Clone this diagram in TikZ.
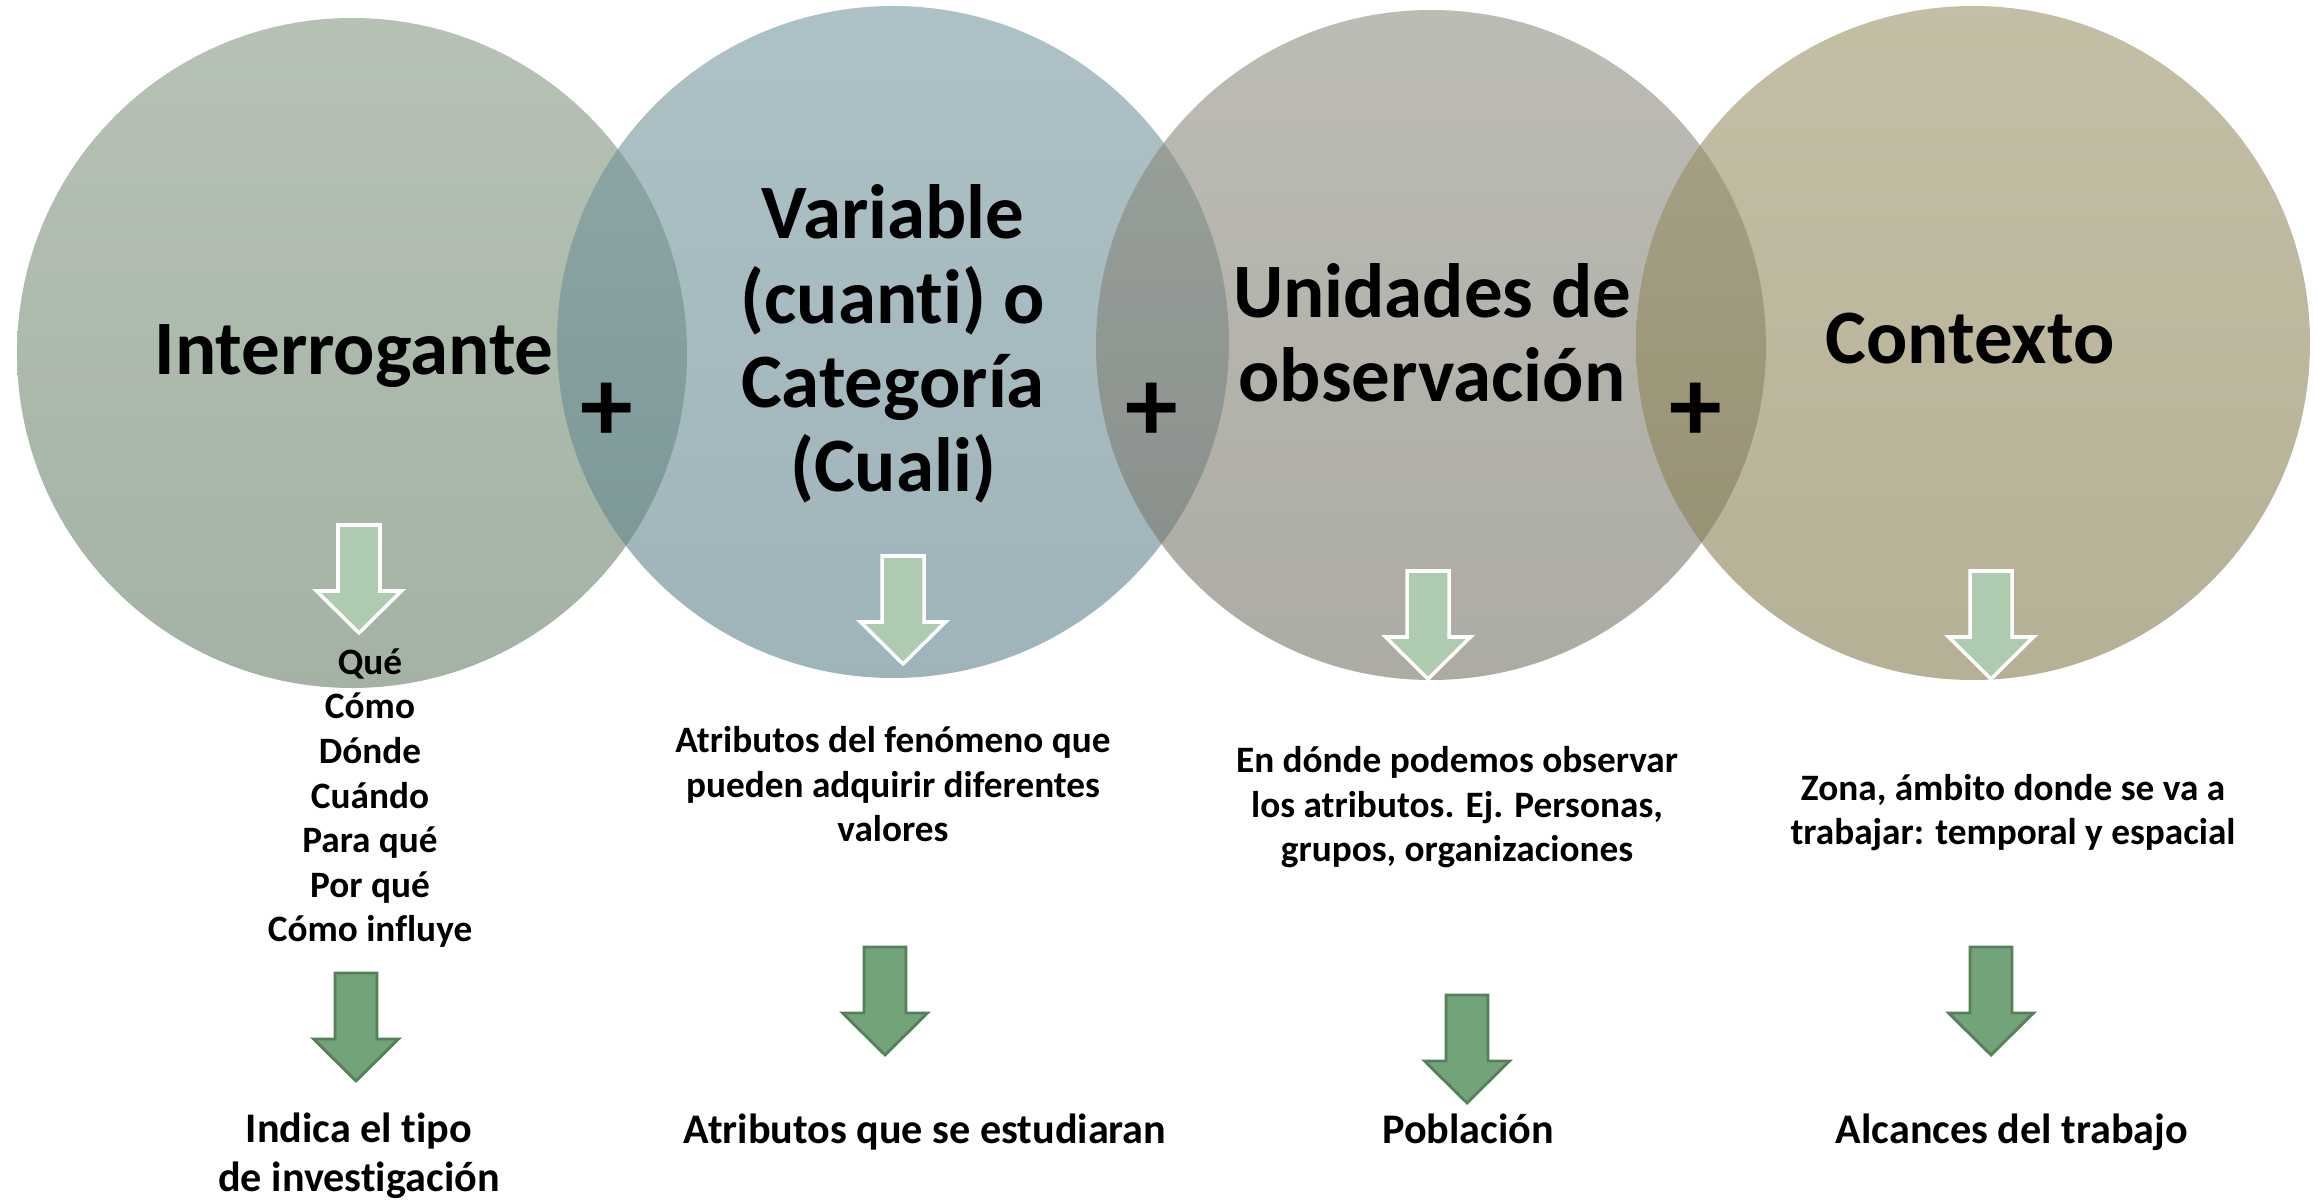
\documentclass[tikz,border=0pt]{standalone}
\usepackage{fontspec}
\setmainfont{Carlito}[Ligatures=NoCommon]
\usetikzlibrary{positioning}

\definecolor{greenTop}{RGB}{132,153,130}
\definecolor{greenBot}{RGB}{102,127,103}
\definecolor{blueTop}{RGB}{118,152,160}
\definecolor{blueBot}{RGB}{95,130,140}
\definecolor{greyTop}{RGB}{145,143,130}
\definecolor{greyBot}{RGB}{117,115,103}
\definecolor{khakiTop}{RGB}{155,147,105}
\definecolor{khakiBot}{RGB}{133,123,80}
\definecolor{paleArrow}{RGB}{174,203,176}
\definecolor{darkArrow}{RGB}{114,163,121}
\definecolor{darkArrowLine}{RGB}{84,128,90}

\begin{document}
\begin{tikzpicture}[
    bubble/.style={circle,inner sep=0pt,minimum size=#1,fill opacity=0.6},
    heading/.style={font=\fontsize{21.9}{24}\selectfont\bfseries,align=center,anchor=base},
    plus/.style={font=\fontsize{30}{32}\selectfont\bfseries},
    small/.style={font=\fontsize{10.6}{12.7}\selectfont\bfseries,align=center,anchor=base},
    result/.style={font=\fontsize{12}{13.9}\selectfont\bfseries,align=center,anchor=base},
    pale/.style={fill=paleArrow,draw=white,line width=1pt},
    dark/.style={fill=darkArrow,draw=darkArrowLine,line width=0.8pt},
    downarrow/.pic={\path[pic actions] (-0.21,0) -- (0.21,0) -- (0.21,-0.66) -- (0.425,-0.66)
        -- (0,-1.08) -- (-0.425,-0.66) -- (-0.21,-0.66) -- cycle;}
]
\useasboundingbox (0,0) rectangle (23.18,-12.02);

% the four circles
\node[bubble=6.70cm,top color=greenTop,bottom color=greenBot] (interr) at (3.52,-3.53) {};
\node[bubble=6.72cm,top color=blueTop,bottom color=blueBot] (variab) at (8.93,-3.42) {};
\node[bubble=6.70cm,top color=greyTop,bottom color=greyBot] (unid) at (14.31,-3.45) {};
\node[bubble=6.74cm,top color=khakiTop,bottom color=khakiBot] (contx) at (19.73,-3.43) {};

% headings (anchor = baseline of last line)
\node[heading] (h1) at (3.54,-3.75) {Interrogante};
\node[heading] (h2) at (8.93,-4.92) {Variable\\(cuanti) o\\Categoría\\(Cuali)};
\node[heading] (h3) at (14.32,-4.02) {Unidades de\\observación};
\node[heading] (h4) at (19.70,-3.64) {Contexto};

\node[plus] (p1) at (6.07,-4.12) {+};
\node[plus] (p2) at (11.52,-4.12) {+};
\node[plus] (p3) at (16.96,-4.12) {+};

% arrows
\pic[pale] at (3.59,-5.25) {downarrow};
\pic[pale] at (9.03,-5.56) {downarrow};
\pic[pale] at (14.28,-5.71) {downarrow};
\pic[pale] at (19.91,-5.71) {downarrow};
\pic[dark] at (3.56,-9.73) {downarrow};
\pic[dark] at (8.85,-9.47) {downarrow};
\pic[dark] at (14.67,-9.95) {downarrow};
\pic[dark] at (19.91,-9.47) {downarrow};

% descriptions
\node[small] (q) at (3.70,-9.42) {Qué\\Cómo\\Dónde\\Cuándo\\Para qué\\Por qué\\Cómo influye};
\node[small] (attr) at (8.93,-8.42) {Atributos del fenómeno que\\pueden adquirir diferentes\\valores};
\node[small] (obs) at (14.57,-8.62) {En dónde podemos observar\\los atributos. Ej. Personas,\\grupos, organizaciones};
\node[small] (zona) at (20.13,-8.45) {Zona, ámbito donde se va a\\trabajar: temporal y espacial};

% results
\node[result] (r1) at (3.59,-11.91) {Indica el tipo\\de investigación};
\node[result] (r2) at (9.25,-11.43) {Atributos que se estudiaran};
\node[result] (r3) at (14.68,-11.43) {Población};
\node[result] (r4) at (20.12,-11.43) {Alcances del trabajo};
\end{tikzpicture}
\end{document}
